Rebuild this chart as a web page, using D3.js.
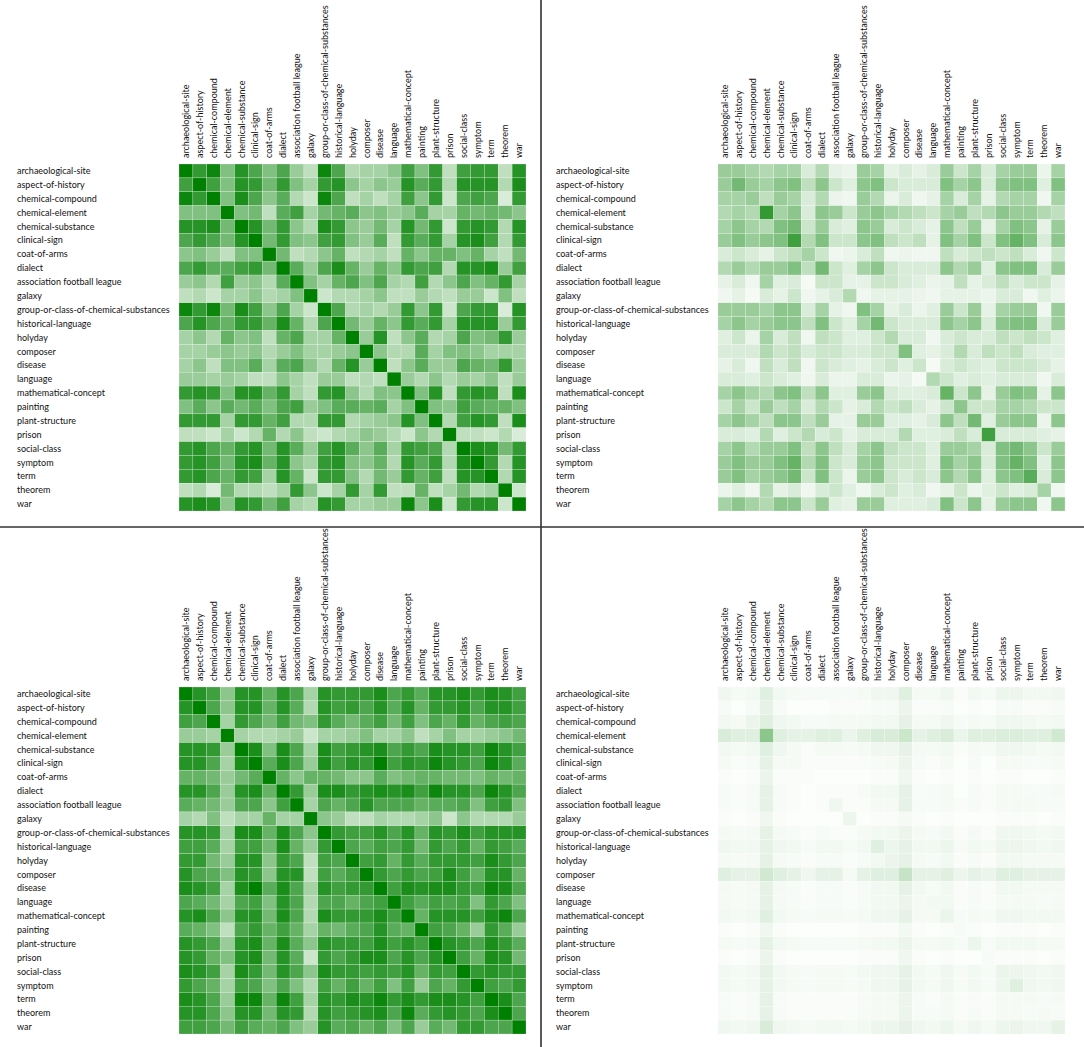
<!DOCTYPE html>
<html>
<head>
<meta charset="utf-8">
<script src="https://cdn.jsdelivr.net/npm/d3@7"></script>
<style>
  body { margin: 0; background: #fff; }
  text { font-family: Lato, "Open Sans", sans-serif; font-size: 9px; fill: #111; }
  .sep { stroke: #333; stroke-width: 1.6; }
</style>
</head>
<body>
<svg id="chart" width="1084" height="1047"></svg>
<script>
var categories = ["archaeological-site", "aspect-of-history", "chemical-compound", "chemical-element",
  "chemical-substance", "clinical-sign", "coat-of-arms", "dialect", "association football league",
  "galaxy", "group-or-class-of-chemical-substances", "historical-language", "holyday", "composer",
  "disease", "language", "mathematical-concept", "painting", "plant-structure", "prison",
  "social-class", "symptom", "term", "theorem", "war"];

// top left
var simA = [
  [1.0,0.8,0.95,0.5,0.85,0.7,0.5,0.7,0.4,0.25,0.95,0.7,0.3,0.35,0.35,0.45,0.75,0.5,0.8,0.25,0.75,0.8,0.8,0.25,0.85],
  [0.75,1.0,0.75,0.5,0.85,0.8,0.55,0.8,0.5,0.35,0.8,0.85,0.45,0.35,0.45,0.4,0.85,0.65,0.8,0.3,0.85,0.85,0.85,0.3,0.9],
  [0.95,0.8,1.0,0.5,0.9,0.7,0.45,0.65,0.3,0.2,0.95,0.7,0.25,0.35,0.25,0.35,0.75,0.45,0.8,0.2,0.7,0.75,0.7,0.15,0.8],
  [0.5,0.5,0.5,1.0,0.5,0.55,0.25,0.65,0.75,0.35,0.55,0.6,0.65,0.45,0.5,0.4,0.45,0.65,0.35,0.35,0.6,0.55,0.6,0.55,0.45],
  [0.85,0.85,0.9,0.55,1.0,0.85,0.55,0.8,0.45,0.3,0.9,0.8,0.45,0.4,0.55,0.35,0.85,0.55,0.8,0.2,0.8,0.85,0.8,0.3,0.85],
  [0.7,0.8,0.7,0.55,0.85,1.0,0.55,0.8,0.5,0.45,0.75,0.8,0.5,0.4,0.65,0.25,0.8,0.65,0.8,0.35,0.85,0.9,0.75,0.3,0.8],
  [0.45,0.5,0.4,0.25,0.5,0.5,1.0,0.55,0.25,0.3,0.45,0.6,0.25,0.3,0.35,0.25,0.6,0.45,0.6,0.6,0.5,0.6,0.35,0.25,0.55],
  [0.7,0.8,0.65,0.65,0.75,0.8,0.55,1.0,0.65,0.4,0.7,0.9,0.6,0.4,0.6,0.45,0.8,0.7,0.75,0.3,0.85,0.85,0.9,0.4,0.75],
  [0.4,0.45,0.3,0.75,0.4,0.45,0.3,0.65,1.0,0.5,0.35,0.6,0.7,0.5,0.7,0.35,0.3,0.75,0.3,0.45,0.7,0.5,0.6,0.8,0.35],
  [0.25,0.3,0.2,0.35,0.35,0.45,0.3,0.35,0.5,1.0,0.2,0.3,0.3,0.35,0.45,0.25,0.25,0.4,0.3,0.25,0.4,0.4,0.2,0.5,0.25],
  [0.95,0.8,0.95,0.55,0.9,0.75,0.45,0.7,0.35,0.2,1.0,0.7,0.3,0.35,0.3,0.4,0.8,0.45,0.8,0.2,0.7,0.8,0.8,0.15,0.85],
  [0.7,0.85,0.7,0.6,0.8,0.8,0.6,0.9,0.6,0.3,0.7,1.0,0.55,0.4,0.6,0.45,0.8,0.65,0.8,0.35,0.85,0.85,0.85,0.4,0.8],
  [0.35,0.45,0.3,0.6,0.45,0.5,0.25,0.6,0.7,0.35,0.35,0.6,1.0,0.4,0.85,0.25,0.45,0.65,0.3,0.35,0.7,0.5,0.55,0.8,0.4],
  [0.35,0.35,0.4,0.45,0.4,0.45,0.3,0.4,0.5,0.35,0.35,0.4,0.45,1.0,0.45,0.3,0.3,0.65,0.35,0.5,0.5,0.45,0.35,0.35,0.35],
  [0.35,0.45,0.25,0.5,0.5,0.65,0.35,0.65,0.7,0.45,0.3,0.6,0.85,0.4,1.0,0.25,0.45,0.65,0.4,0.4,0.7,0.6,0.55,0.8,0.4],
  [0.4,0.4,0.35,0.4,0.35,0.25,0.25,0.45,0.35,0.25,0.4,0.4,0.25,0.3,0.25,1.0,0.4,0.3,0.45,0.3,0.4,0.35,0.45,0.25,0.4],
  [0.8,0.85,0.8,0.5,0.85,0.85,0.6,0.8,0.35,0.25,0.8,0.85,0.45,0.3,0.5,0.45,1.0,0.5,0.85,0.25,0.8,0.85,0.8,0.25,0.9],
  [0.5,0.65,0.45,0.65,0.55,0.65,0.5,0.7,0.75,0.4,0.5,0.65,0.65,0.6,0.65,0.35,0.5,1.0,0.5,0.45,0.75,0.65,0.6,0.6,0.5],
  [0.8,0.8,0.8,0.35,0.8,0.8,0.6,0.75,0.3,0.3,0.8,0.8,0.3,0.35,0.4,0.45,0.85,0.5,1.0,0.3,0.75,0.85,0.8,0.25,0.9],
  [0.25,0.25,0.2,0.35,0.2,0.3,0.6,0.3,0.45,0.25,0.2,0.3,0.35,0.45,0.4,0.3,0.2,0.45,0.3,1.0,0.25,0.25,0.2,0.3,0.15],
  [0.8,0.85,0.7,0.6,0.8,0.85,0.55,0.85,0.65,0.4,0.75,0.85,0.65,0.45,0.65,0.35,0.8,0.75,0.7,0.3,1.0,0.9,0.85,0.55,0.8],
  [0.8,0.85,0.75,0.55,0.85,0.9,0.6,0.85,0.45,0.35,0.8,0.85,0.5,0.45,0.6,0.3,0.85,0.65,0.8,0.3,0.9,1.0,0.8,0.3,0.85],
  [0.8,0.85,0.7,0.6,0.8,0.75,0.35,0.85,0.6,0.2,0.8,0.8,0.5,0.3,0.55,0.4,0.8,0.6,0.75,0.25,0.85,0.85,1.0,0.3,0.85],
  [0.25,0.3,0.15,0.55,0.3,0.3,0.25,0.35,0.8,0.45,0.2,0.35,0.8,0.35,0.8,0.25,0.25,0.6,0.25,0.35,0.55,0.3,0.35,1.0,0.2],
  [0.85,0.9,0.85,0.45,0.85,0.8,0.55,0.75,0.35,0.3,0.85,0.8,0.35,0.35,0.4,0.4,0.95,0.45,0.9,0.2,0.8,0.85,0.85,0.2,1.0]
];

// top right
var simB = [
  [0.4,0.4,0.35,0.3,0.35,0.35,0.15,0.3,0.1,0.08,0.4,0.35,0.1,0.15,0.1,0.15,0.4,0.2,0.35,0.15,0.35,0.4,0.4,0.08,0.35],
  [0.4,0.55,0.4,0.35,0.45,0.5,0.25,0.45,0.2,0.12,0.45,0.5,0.2,0.15,0.15,0.15,0.5,0.35,0.45,0.15,0.45,0.5,0.5,0.12,0.5],
  [0.35,0.35,0.4,0.25,0.4,0.35,0.15,0.3,0.08,0.06,0.4,0.3,0.08,0.15,0.06,0.1,0.35,0.15,0.35,0.1,0.3,0.35,0.35,0.06,0.35],
  [0.3,0.35,0.3,0.8,0.35,0.45,0.15,0.45,0.4,0.2,0.4,0.45,0.35,0.3,0.25,0.2,0.35,0.4,0.25,0.3,0.45,0.4,0.4,0.3,0.25],
  [0.35,0.45,0.35,0.3,0.5,0.55,0.2,0.4,0.15,0.12,0.45,0.4,0.15,0.2,0.15,0.1,0.45,0.25,0.4,0.1,0.35,0.5,0.45,0.1,0.4],
  [0.4,0.5,0.4,0.45,0.5,0.75,0.3,0.5,0.2,0.2,0.45,0.5,0.25,0.2,0.25,0.1,0.5,0.35,0.5,0.2,0.5,0.6,0.5,0.15,0.45],
  [0.15,0.2,0.15,0.1,0.2,0.25,0.35,0.2,0.06,0.08,0.15,0.25,0.06,0.08,0.06,0.06,0.25,0.15,0.2,0.25,0.2,0.25,0.15,0.06,0.2],
  [0.3,0.4,0.3,0.4,0.4,0.5,0.25,0.55,0.2,0.12,0.35,0.45,0.2,0.15,0.15,0.15,0.45,0.3,0.4,0.12,0.45,0.5,0.5,0.15,0.4],
  [0.1,0.15,0.06,0.35,0.12,0.15,0.04,0.2,0.2,0.1,0.1,0.2,0.2,0.15,0.12,0.08,0.1,0.25,0.1,0.15,0.25,0.15,0.2,0.2,0.1],
  [0.06,0.1,0.04,0.15,0.1,0.2,0.06,0.1,0.15,0.3,0.06,0.1,0.1,0.1,0.08,0.06,0.1,0.1,0.1,0.08,0.15,0.15,0.06,0.12,0.08],
  [0.4,0.4,0.4,0.35,0.45,0.45,0.15,0.35,0.1,0.06,0.5,0.35,0.1,0.15,0.08,0.12,0.4,0.2,0.4,0.1,0.35,0.4,0.4,0.06,0.4],
  [0.35,0.45,0.35,0.4,0.45,0.45,0.25,0.5,0.2,0.12,0.35,0.55,0.2,0.15,0.15,0.15,0.45,0.35,0.45,0.15,0.45,0.5,0.5,0.15,0.4],
  [0.12,0.2,0.08,0.35,0.15,0.25,0.06,0.25,0.2,0.12,0.12,0.2,0.3,0.15,0.15,0.06,0.15,0.2,0.15,0.15,0.25,0.2,0.25,0.2,0.12],
  [0.15,0.15,0.15,0.3,0.2,0.25,0.15,0.2,0.2,0.15,0.15,0.2,0.2,0.5,0.12,0.1,0.15,0.3,0.15,0.25,0.2,0.25,0.15,0.12,0.12],
  [0.1,0.15,0.06,0.25,0.15,0.25,0.06,0.2,0.15,0.12,0.1,0.15,0.2,0.12,0.2,0.04,0.15,0.2,0.15,0.12,0.2,0.2,0.2,0.15,0.1],
  [0.15,0.15,0.12,0.2,0.15,0.12,0.06,0.15,0.08,0.08,0.15,0.15,0.08,0.1,0.04,0.3,0.2,0.12,0.15,0.12,0.15,0.15,0.15,0.06,0.15],
  [0.35,0.45,0.35,0.3,0.45,0.5,0.25,0.45,0.12,0.12,0.4,0.45,0.15,0.12,0.12,0.15,0.6,0.2,0.45,0.1,0.4,0.5,0.45,0.1,0.45],
  [0.2,0.35,0.2,0.4,0.25,0.35,0.15,0.3,0.2,0.1,0.15,0.3,0.2,0.25,0.15,0.1,0.2,0.45,0.2,0.2,0.35,0.35,0.3,0.2,0.2],
  [0.35,0.45,0.35,0.25,0.45,0.45,0.25,0.4,0.1,0.1,0.4,0.4,0.12,0.12,0.1,0.15,0.45,0.25,0.55,0.12,0.4,0.45,0.45,0.08,0.45],
  [0.15,0.15,0.12,0.3,0.12,0.2,0.3,0.15,0.2,0.1,0.15,0.15,0.15,0.3,0.12,0.12,0.15,0.25,0.15,0.75,0.15,0.15,0.15,0.12,0.1],
  [0.35,0.45,0.3,0.4,0.4,0.5,0.25,0.45,0.25,0.15,0.35,0.45,0.25,0.2,0.2,0.12,0.4,0.4,0.35,0.15,0.5,0.55,0.45,0.2,0.4],
  [0.4,0.5,0.4,0.4,0.5,0.6,0.3,0.5,0.2,0.15,0.4,0.45,0.2,0.2,0.2,0.12,0.5,0.35,0.45,0.15,0.5,0.6,0.5,0.12,0.45],
  [0.4,0.5,0.35,0.4,0.45,0.55,0.2,0.5,0.2,0.08,0.4,0.45,0.2,0.15,0.2,0.15,0.45,0.3,0.45,0.12,0.45,0.5,0.65,0.15,0.45],
  [0.08,0.12,0.06,0.3,0.1,0.15,0.06,0.15,0.2,0.12,0.06,0.15,0.2,0.12,0.15,0.06,0.1,0.2,0.08,0.12,0.2,0.12,0.15,0.35,0.06],
  [0.35,0.45,0.35,0.3,0.45,0.45,0.2,0.4,0.12,0.1,0.4,0.4,0.12,0.12,0.12,0.15,0.5,0.2,0.45,0.1,0.4,0.45,0.45,0.06,0.45]
];

// bottom left
var simC = [
  [1.0,0.85,0.75,0.45,0.85,0.85,0.6,0.85,0.7,0.35,0.85,0.8,0.8,0.8,0.9,0.7,0.8,0.65,0.85,0.85,0.9,0.8,0.9,0.85,0.75],
  [0.85,1.0,0.7,0.45,0.85,0.85,0.6,0.85,0.65,0.3,0.85,0.75,0.8,0.7,0.85,0.65,0.85,0.6,0.8,0.8,0.85,0.7,0.85,0.85,0.75],
  [0.75,0.7,1.0,0.35,0.8,0.7,0.55,0.75,0.55,0.5,0.8,0.65,0.55,0.65,0.75,0.55,0.75,0.5,0.7,0.6,0.8,0.6,0.7,0.75,0.7],
  [0.4,0.4,0.35,1.0,0.35,0.3,0.3,0.35,0.4,0.2,0.35,0.35,0.4,0.5,0.35,0.35,0.45,0.25,0.35,0.5,0.35,0.35,0.4,0.45,0.55],
  [0.85,0.85,0.8,0.4,1.0,0.9,0.5,0.9,0.7,0.35,0.9,0.75,0.8,0.85,0.9,0.7,0.8,0.7,0.9,0.85,0.85,0.75,0.95,0.85,0.75],
  [0.85,0.85,0.7,0.35,0.9,1.0,0.65,0.9,0.7,0.4,0.9,0.75,0.85,0.8,1.0,0.75,0.85,0.8,0.95,0.85,0.8,0.7,0.95,0.85,0.65],
  [0.6,0.6,0.55,0.4,0.55,0.65,1.0,0.6,0.45,0.6,0.6,0.55,0.45,0.45,0.65,0.5,0.55,0.6,0.6,0.55,0.55,0.5,0.6,0.55,0.6],
  [0.85,0.85,0.7,0.4,0.85,0.9,0.6,1.0,0.8,0.4,0.9,0.9,0.8,0.85,0.9,0.85,0.9,0.75,0.95,0.85,0.85,0.7,0.95,0.85,0.7],
  [0.65,0.6,0.55,0.4,0.7,0.7,0.45,0.75,1.0,0.35,0.7,0.6,0.7,0.85,0.7,0.7,0.7,0.6,0.65,0.65,0.7,0.5,0.75,0.8,0.5],
  [0.35,0.3,0.5,0.25,0.35,0.35,0.6,0.35,0.35,1.0,0.45,0.4,0.25,0.25,0.35,0.3,0.3,0.35,0.45,0.2,0.45,0.3,0.3,0.3,0.4],
  [0.85,0.85,0.8,0.35,0.9,0.9,0.6,0.9,0.7,0.45,1.0,0.8,0.75,0.75,0.85,0.7,0.85,0.6,0.85,0.8,0.9,0.75,0.85,0.85,0.85],
  [0.75,0.75,0.65,0.35,0.75,0.75,0.55,0.9,0.6,0.4,0.8,1.0,0.7,0.65,0.75,0.7,0.8,0.55,0.8,0.7,0.8,0.6,0.8,0.75,0.65],
  [0.8,0.8,0.55,0.4,0.85,0.85,0.45,0.8,0.7,0.25,0.75,0.7,1.0,0.75,0.8,0.6,0.8,0.65,0.8,0.8,0.8,0.75,0.9,0.8,0.7],
  [0.85,0.7,0.65,0.5,0.85,0.8,0.45,0.85,0.85,0.25,0.75,0.65,0.75,1.0,0.8,0.7,0.8,0.7,0.75,0.9,0.75,0.6,0.85,0.85,0.6],
  [0.9,0.85,0.75,0.35,0.9,1.0,0.65,0.9,0.7,0.35,0.85,0.75,0.8,0.8,1.0,0.75,0.9,0.85,0.9,0.9,0.8,0.75,0.95,0.9,0.7],
  [0.7,0.65,0.55,0.35,0.7,0.75,0.5,0.85,0.7,0.3,0.7,0.7,0.6,0.7,0.75,1.0,0.75,0.65,0.75,0.7,0.75,0.5,0.8,0.7,0.5],
  [0.85,0.9,0.7,0.45,0.85,0.85,0.55,0.9,0.7,0.3,0.9,0.8,0.8,0.8,0.9,0.75,1.0,0.6,0.85,0.85,0.85,0.75,0.9,0.95,0.7],
  [0.65,0.6,0.5,0.25,0.7,0.8,0.6,0.75,0.6,0.35,0.6,0.55,0.65,0.7,0.85,0.65,0.6,1.0,0.75,0.7,0.6,0.4,0.8,0.65,0.4],
  [0.85,0.8,0.7,0.4,0.85,0.9,0.6,0.9,0.65,0.45,0.85,0.8,0.8,0.75,0.9,0.75,0.85,0.75,1.0,0.85,0.8,0.7,0.9,0.8,0.65],
  [0.85,0.8,0.6,0.5,0.85,0.9,0.55,0.85,0.65,0.2,0.8,0.7,0.8,0.9,0.9,0.7,0.85,0.7,0.85,1.0,0.75,0.6,0.9,0.85,0.55],
  [0.9,0.85,0.75,0.35,0.9,0.8,0.55,0.85,0.7,0.45,0.9,0.8,0.8,0.75,0.8,0.75,0.85,0.6,0.8,0.75,1.0,0.8,0.85,0.8,0.8],
  [0.8,0.7,0.6,0.35,0.75,0.7,0.5,0.7,0.5,0.3,0.75,0.6,0.75,0.6,0.75,0.5,0.75,0.4,0.7,0.6,0.8,1.0,0.75,0.7,0.8],
  [0.9,0.85,0.7,0.4,0.95,0.95,0.6,0.95,0.75,0.35,0.85,0.8,0.9,0.85,0.95,0.8,0.9,0.8,0.9,0.9,0.85,0.75,1.0,0.9,0.7],
  [0.85,0.85,0.7,0.45,0.85,0.85,0.55,0.85,0.8,0.3,0.85,0.75,0.8,0.85,0.9,0.7,0.95,0.65,0.8,0.85,0.8,0.7,0.9,1.0,0.7],
  [0.75,0.75,0.7,0.55,0.75,0.65,0.6,0.7,0.5,0.4,0.85,0.65,0.7,0.6,0.7,0.5,0.7,0.4,0.65,0.55,0.8,0.8,0.7,0.7,1.0]
];

// bottom right
var simD = [
  [0.06,0.04,0.05,0.12,0.05,0.04,0.03,0.03,0.03,0.03,0.04,0.06,0.06,0.12,0.04,0.04,0.06,0.02,0.05,0.03,0.07,0.07,0.05,0.05,0.06],
  [0.03,0.01,0.03,0.1,0.03,0.01,0.01,0.01,0.02,0.02,0.02,0.03,0.03,0.08,0.02,0.02,0.03,0.01,0.02,0.01,0.03,0.03,0.02,0.02,0.03],
  [0.05,0.04,0.08,0.12,0.06,0.05,0.03,0.03,0.04,0.04,0.04,0.05,0.05,0.1,0.04,0.04,0.06,0.03,0.04,0.03,0.06,0.06,0.05,0.04,0.05],
  [0.15,0.12,0.12,0.45,0.12,0.1,0.1,0.12,0.12,0.08,0.12,0.15,0.15,0.2,0.1,0.12,0.15,0.08,0.12,0.12,0.14,0.14,0.12,0.12,0.18],
  [0.05,0.04,0.05,0.12,0.06,0.04,0.02,0.04,0.04,0.03,0.04,0.06,0.06,0.1,0.04,0.04,0.05,0.02,0.04,0.03,0.06,0.06,0.05,0.04,0.05],
  [0.04,0.02,0.03,0.1,0.04,0.04,0.02,0.02,0.02,0.02,0.02,0.03,0.04,0.08,0.03,0.02,0.04,0.01,0.03,0.01,0.04,0.04,0.03,0.03,0.04],
  [0.02,0.01,0.02,0.08,0.02,0.02,0.02,0.01,0.01,0.01,0.01,0.02,0.02,0.06,0.02,0.01,0.02,0.01,0.02,0.01,0.02,0.02,0.01,0.01,0.02],
  [0.03,0.02,0.03,0.1,0.03,0.02,0.01,0.02,0.02,0.02,0.03,0.05,0.05,0.1,0.03,0.03,0.04,0.01,0.03,0.02,0.04,0.04,0.03,0.03,0.04],
  [0.03,0.02,0.03,0.1,0.03,0.02,0.01,0.02,0.06,0.02,0.02,0.04,0.04,0.1,0.03,0.03,0.04,0.02,0.03,0.02,0.04,0.04,0.04,0.03,0.03],
  [0.02,0.01,0.02,0.06,0.02,0.01,0.01,0.01,0.01,0.07,0.01,0.02,0.02,0.04,0.02,0.01,0.02,0.01,0.01,0.01,0.02,0.02,0.02,0.01,0.02],
  [0.04,0.03,0.04,0.1,0.04,0.03,0.02,0.03,0.02,0.02,0.04,0.05,0.05,0.08,0.04,0.03,0.05,0.02,0.04,0.02,0.06,0.06,0.05,0.04,0.05],
  [0.06,0.05,0.05,0.1,0.06,0.05,0.03,0.05,0.05,0.03,0.05,0.12,0.07,0.1,0.05,0.05,0.07,0.03,0.05,0.04,0.07,0.07,0.06,0.05,0.06],
  [0.04,0.03,0.04,0.1,0.04,0.03,0.02,0.03,0.03,0.02,0.03,0.05,0.08,0.1,0.04,0.03,0.05,0.02,0.03,0.02,0.05,0.05,0.04,0.04,0.04],
  [0.12,0.1,0.1,0.18,0.12,0.1,0.06,0.1,0.1,0.04,0.1,0.12,0.12,0.22,0.1,0.1,0.12,0.07,0.1,0.08,0.12,0.12,0.1,0.1,0.1],
  [0.04,0.03,0.04,0.1,0.04,0.03,0.02,0.03,0.03,0.02,0.03,0.05,0.05,0.1,0.05,0.03,0.05,0.02,0.03,0.02,0.05,0.05,0.04,0.04,0.04],
  [0.04,0.03,0.04,0.1,0.04,0.03,0.02,0.03,0.03,0.02,0.03,0.05,0.05,0.08,0.04,0.05,0.05,0.02,0.03,0.02,0.04,0.04,0.04,0.03,0.04],
  [0.05,0.04,0.05,0.12,0.05,0.04,0.03,0.04,0.04,0.03,0.04,0.06,0.06,0.1,0.04,0.04,0.08,0.03,0.04,0.03,0.06,0.06,0.05,0.05,0.05],
  [0.02,0.01,0.02,0.06,0.02,0.01,0.01,0.01,0.01,0.01,0.02,0.02,0.02,0.05,0.02,0.01,0.02,0.03,0.02,0.01,0.02,0.02,0.02,0.01,0.02],
  [0.04,0.03,0.04,0.1,0.05,0.04,0.03,0.03,0.03,0.03,0.04,0.05,0.05,0.08,0.04,0.04,0.05,0.03,0.07,0.03,0.05,0.05,0.05,0.04,0.04],
  [0.02,0.01,0.02,0.08,0.02,0.01,0.01,0.01,0.01,0.01,0.02,0.02,0.02,0.06,0.02,0.01,0.02,0.01,0.01,0.03,0.02,0.02,0.02,0.01,0.02],
  [0.05,0.04,0.05,0.1,0.05,0.04,0.03,0.04,0.04,0.03,0.05,0.06,0.06,0.1,0.05,0.04,0.06,0.03,0.05,0.03,0.08,0.07,0.06,0.05,0.06],
  [0.05,0.04,0.05,0.1,0.05,0.04,0.03,0.04,0.04,0.03,0.04,0.06,0.06,0.1,0.05,0.04,0.06,0.03,0.05,0.03,0.07,0.12,0.06,0.05,0.06],
  [0.03,0.02,0.03,0.1,0.03,0.02,0.02,0.02,0.02,0.02,0.03,0.04,0.04,0.08,0.03,0.02,0.04,0.02,0.03,0.02,0.04,0.04,0.04,0.03,0.04],
  [0.03,0.02,0.03,0.1,0.03,0.02,0.02,0.02,0.02,0.02,0.03,0.04,0.04,0.08,0.03,0.03,0.04,0.02,0.03,0.02,0.04,0.04,0.03,0.04,0.03],
  [0.06,0.05,0.06,0.15,0.06,0.05,0.04,0.05,0.05,0.04,0.05,0.07,0.07,0.1,0.06,0.05,0.07,0.04,0.06,0.04,0.07,0.08,0.06,0.06,0.1]
];

var svg = d3.select("#chart");
var size = 347;

var x = d3.scaleBand().domain(categories).range([0, size]);
var y = d3.scaleBand().domain(categories).range([0, size]);
var color = d3.scaleLinear().domain([0, 1]).range(["#ffffff", "#008000"]);

function heatmap(left, top, matrix) {
  var g = svg.append("g").attr("transform", "translate(" + left + "," + top + ")");

  var cells = [];
  matrix.forEach(function(row, i) {
    row.forEach(function(v, j) {
      cells.push({row: categories[i], col: categories[j], value: v});
    });
  });

  g.selectAll("rect")
    .data(cells)
    .enter().append("rect")
    .attr("x", function(d) { return x(d.col); })
    .attr("y", function(d) { return y(d.row); })
    .attr("width", x.bandwidth())
    .attr("height", y.bandwidth())
    .attr("fill", function(d) { return color(d.value); })
    .attr("stroke", "#fff")
    .attr("stroke-width", 0.4)
    .attr("stroke-opacity", 0.5);

  // row labels on the left
  g.selectAll(".row-label")
    .data(categories)
    .enter().append("text")
    .attr("class", "row-label")
    .attr("x", -162)
    .attr("y", function(d) { return y(d) + y.bandwidth() / 2; })
    .attr("dy", "0.35em")
    .text(function(d) { return d; });

  // column labels, rotated
  g.selectAll(".col-label")
    .data(categories)
    .enter().append("text")
    .attr("class", "col-label")
    .attr("transform", function(d) {
      return "translate(" + (x(d) + x.bandwidth() / 2) + ",-6) rotate(-90)";
    })
    .attr("dy", "0.35em")
    .text(function(d) { return d; });
}

heatmap(179, 164, simA);
heatmap(718, 164, simB);
heatmap(179, 687, simC);
heatmap(718, 687, simD);

// panel separators
svg.append("line").attr("class", "sep")
   .attr("x1", 541).attr("x2", 541).attr("y1", 0).attr("y2", 1047);
svg.append("line").attr("class", "sep")
   .attr("x1", 0).attr("x2", 1084).attr("y1", 527).attr("y2", 527);
</script>
</body>
</html>
